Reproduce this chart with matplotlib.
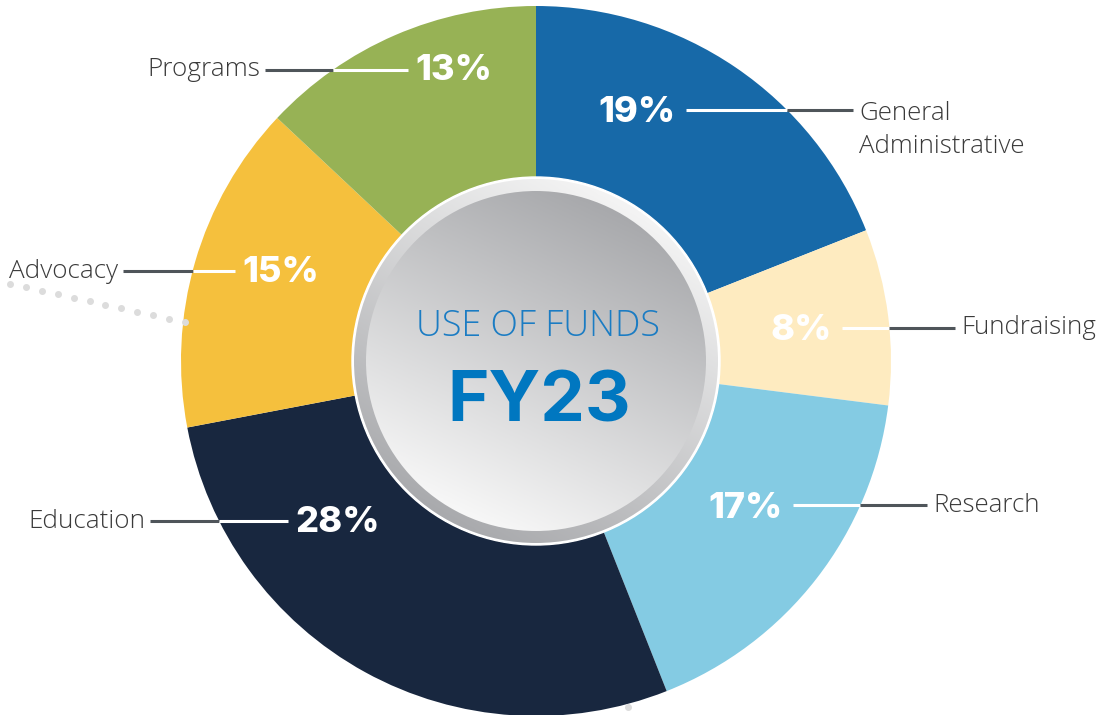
import matplotlib.pyplot as plt
import numpy as np
from matplotlib.patches import Circle
from matplotlib.colors import LinearSegmentedColormap

# use of funds, FY23 (percent of total)
categories = ['General\nAdministrative', 'Fundraising', 'Research', 'Education', 'Advocacy', 'Programs']
shares = [19, 8, 17, 28, 15, 13]
colors = ['#1769a8', '#feebc0', '#84cbe3', '#18273f', '#f5c03d', '#97b255']

# label leader lines: side, x start, x end, y (pixels from top)
leaders = [('right', 686, 853, 110),
           ('right', 842, 955, 328),
           ('right', 793, 927, 505),
           ('left', 150, 288, 521),
           ('left', 123, 235, 271),
           ('left', 265, 408, 70)]

W, H = 1107, 715
cx, cy, R = 536, H - 361, 355

fig = plt.figure(figsize=(W / 100, H / 100), dpi=100)
ax = fig.add_axes([0, 0, 1, 1])

ax.pie(shares, colors=colors, startangle=90, counterclock=False,
       center=(cx, cy), radius=R, wedgeprops=dict(linewidth=0), frame=True)
ax.set_aspect('auto')
ax.set_xlim(0, W)
ax.set_ylim(0, H)
ax.axis('off')


def gradient_disc(r, c0, c1, ang, z):
    n = 300
    u = np.linspace(-1, 1, n)
    xx, yy = np.meshgrid(u, u)
    t = (xx * np.cos(np.radians(ang)) + yy * np.sin(np.radians(ang)) + 1) / 2
    cmap = LinearSegmentedColormap.from_list('g', [c0, c1])
    im = ax.imshow(t, cmap=cmap, extent=[cx - r, cx + r, cy - r, cy + r],
                   origin='lower', zorder=z, vmin=0, vmax=1, interpolation='bilinear')
    clip = Circle((cx, cy), r, transform=ax.transData)
    im.set_clip_path(clip)


# centre badge
ax.add_patch(Circle((cx, cy), 184, color='white', zorder=3))
gradient_disc(182, '#a9aaad', '#f4f4f4', 60, 4)
gradient_disc(170, '#f7f7f7', '#a8a9ac', 65, 5)
ax.set_aspect('auto')
ax.set_xlim(0, W)
ax.set_ylim(0, H)

ax.text(cx + 2, H - 326, 'USE OF FUNDS', ha='center', va='center', fontsize=25.8,
        family='Open Sans', weight='light', color='#1b7cc3', zorder=6)
ax.text(cx + 3, H - 403, 'FY23', ha='center', va='center', fontsize=51,
        family='Inter', weight='bold', color='#0077c0', zorder=6)

# leader lines and labels
grey = '#4f555a'
for (side, x0, x1, y), name, val in zip(leaders, categories, shares):
    yy = H - y
    half = np.sqrt(R ** 2 - (yy - cy) ** 2)
    if side == 'right':
        split = cx + half
        ax.plot([x0, split], [yy, yy], color='white', lw=2.2, zorder=2, solid_capstyle='butt')
        ax.plot([split, x1], [yy, yy], color=grey, lw=2.2, zorder=2, solid_capstyle='butt')
        ax.text(x0 - 10, yy - 3, f'{val}%', ha='right', va='center', fontsize=26,
                family='Inter', weight='heavy', color='white', zorder=2)
        ax.text(x1 + 6, yy - 20 if '\n' in name else yy, name, ha='left', va='center',
                fontsize=18.6, family='Open Sans', weight='light', color='#3a3a3a',
                linespacing=1.4)
    else:
        split = cx - half
        ax.plot([x0, split], [yy, yy], color=grey, lw=2.2, zorder=2, solid_capstyle='butt')
        ax.plot([split, x1], [yy, yy], color='white', lw=2.2, zorder=2, solid_capstyle='butt')
        ax.text(x1 + 7, yy - 1, f'{val}%', ha='left', va='center', fontsize=26,
                family='Inter', weight='heavy', color='white', zorder=2)
        ax.text(x0 - 5, yy, name, ha='right', va='center', fontsize=18.8,
                family='Open Sans', weight='light', color='#3a3a3a')

# decorative dots
dx = np.linspace(10, 185, 12)
dy = H - (284 + (dx - 10) * 38 / 175)
ax.plot(dx, dy, ls='none', marker='o', ms=4, color='#dcdcdc', zorder=1)
ax.plot([628], [H - 707], ls='none', marker='o', ms=4, color='#dcdcdc', zorder=1)

fig.savefig('out.png', dpi=100)
